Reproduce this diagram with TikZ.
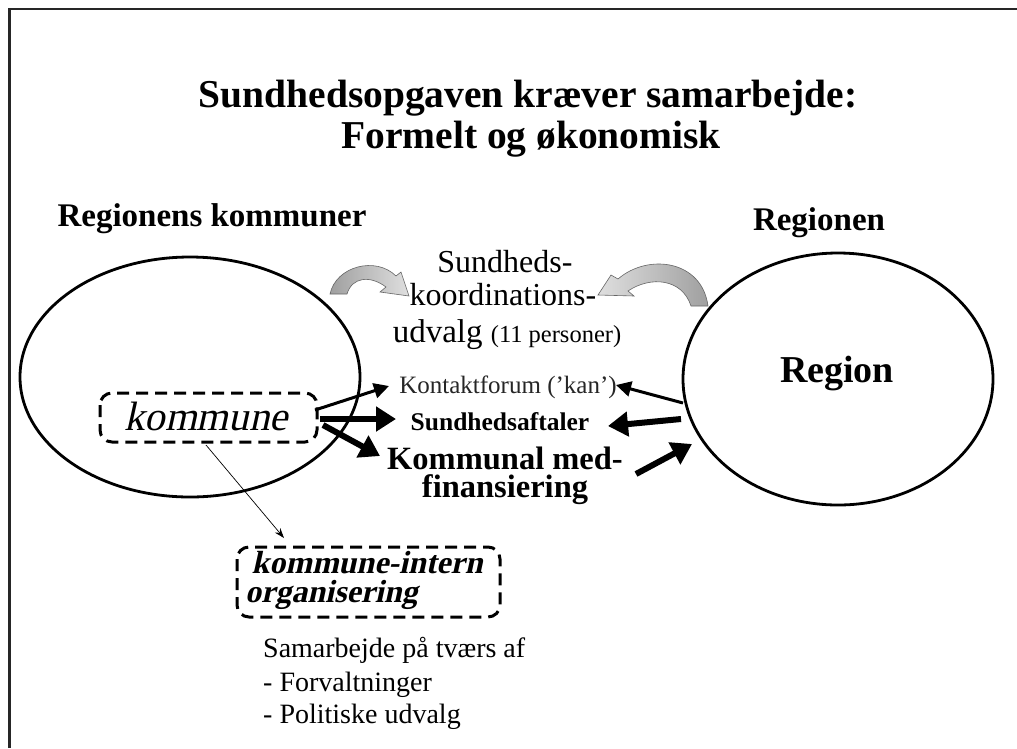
\documentclass[tikz,border=0pt]{standalone}
\usepackage{fontspec}
\setmainfont{Liberation Serif}
\usetikzlibrary{arrows.meta,shapes.geometric}
\tikzset{
  txt/.style={anchor=base, inner sep=0pt, text=black},
  oval/.style={ellipse, draw=black, line width=2.8pt, inner sep=0pt},
  dbox/.style={draw=black, line width=3pt, dash pattern=on 12pt off 7pt, rounded corners=12pt},
  medarrow/.style={draw=black, line width=3pt, -{Triangle[length=15pt,width=15pt]}},
  thickarrow/.style={draw=black, line width=6pt, -{Triangle[length=20pt,width=24pt]}},
  thinarrow/.style={draw=black, line width=0.7pt, -{Stealth[length=10pt,width=7pt]}},
  curvy/.style={draw=gray!80!black, line width=0.6pt}
}
\begin{document}
\begin{tikzpicture}[x=1pt,y=-1pt]
\useasboundingbox (0,0) rectangle (1017,748);
\fill[white] (0,0) rectangle (1017,748);
% frame
\draw[line width=2.2pt, color=black!85] (9.5,748) -- (9.5,9) -- (1017,9);

% title
\node[txt, font=\fontsize{39.5}{44}\selectfont\bfseries] (title1) at (528,107) {Sundhedsopgaven kræver samarbejde:};
\node[txt, font=\fontsize{39.5}{44}\selectfont\bfseries] (title2) at (531,148) {Formelt og økonomisk};

% headings
\node[txt, font=\fontsize{33}{38}\selectfont\bfseries] (lhead) at (212,226) {Regionens kommuner};
\node[txt, font=\fontsize{33}{38}\selectfont\bfseries] (rhead) at (819,230) {Regionen};

% ovals
\node[oval, minimum width=340pt, minimum height=240pt] (L) at (190,377) {};
\node[oval, minimum width=310pt, minimum height=252pt] (R) at (838,379) {};
\node[txt, font=\fontsize{38}{44}\selectfont\bfseries] (region) at (837,382) {Region};

% center texts
\node[txt, font=\fontsize{32}{36}\selectfont] (s1) at (505,272) {Sundheds-};
\node[txt, font=\fontsize{32}{36}\selectfont] (s2) at (503,305) {koordinations-};
\node[txt, font=\fontsize{33}{36}\selectfont] (s3) at (507,342) {udvalg {\fontsize{24.5}{28}\selectfont (11 personer)}};

\node[txt, font=\fontsize{25}{28}\selectfont, text=black!85] (kf) at (508,393) {Kontaktforum (’kan’)};
\node[txt, font=\fontsize{25.5}{28}\selectfont\bfseries] (sa) at (500,430) {Sundhedsaftaler};
\node[txt, align=center, font=\fontsize{32.5}{28}\selectfont\bfseries] (km) at (505,497) {Kommunal med-\\finansiering};

% kommune box
\draw[dbox] (100,393) rectangle (317,442);
\begin{scope}[shift={(206,430)}, xslant=0.22]
  \node[txt, transform shape, font=\fontsize{41}{46}\selectfont] (kom) at (0,0) {kommune};
\end{scope}
\coordinate (komB) at (206,445);

% intern box
\draw[dbox] (237,547) rectangle (500,617);
\begin{scope}[shift={(245,602)}, xslant=0.22]
  \node[txt, transform shape, anchor=base west, align=left, font=\fontsize{32}{29}\selectfont\bfseries] (ki) at (0,0) {kommune-intern\\organisering};
\end{scope}
\coordinate (kiT) at (284,538);

% bottom text
\node[txt, anchor=base west, font=\fontsize{28}{33}\selectfont] (b1) at (263,657) {Samarbejde på tværs af};
\node[txt, anchor=base west, font=\fontsize{28}{33}\selectfont] (b2) at (263,691) {- Forvaltninger};
\node[txt, anchor=base west, font=\fontsize{28}{33}\selectfont] (b3) at (263,723) {- Politiske udvalg};

% arrow end points
\coordinate (a1s) at (315,410); \coordinate (a1e) at (389,386);
\coordinate (a2s) at (320,419); \coordinate (a2e) at (396,419);
\coordinate (a3s) at (323,425); \coordinate (a3e) at (380,456);
\coordinate (b1s) at (683,403); \coordinate (b1e) at (616,385);
\coordinate (b2s) at (681,419); \coordinate (b2e) at (608,426);
\coordinate (b3s) at (636,474); \coordinate (b3e) at (692,444);

\draw[medarrow] (a1s) -- (a1e);
\draw[thickarrow] (a2s) -- (a2e);
\draw[thickarrow] (a3s) -- (a3e);
\draw[medarrow] (b1s) -- (b1e);
\draw[thickarrow] (b2s) -- (b2e);
\draw[thickarrow] (b3s) -- (b3e);
\draw[thinarrow] (komB) -- (kiT);

% curved block arrows
\path[curvy, left color=gray!75, right color=gray!25]
  (330,294) .. controls (336,266) and (376,256) .. (396,276)
  -- (401,272) -- (409,296) -- (380,292) -- (386,287)
  .. controls (370,275) and (352,277) .. (347,294) -- cycle;
\path[curvy, left color=gray!25, right color=gray!75]
  (708,306) .. controls (702,260) and (648,253) .. (618,279)
  -- (611,275) -- (598,295) -- (634,296) -- (628,291)
  .. controls (650,276) and (682,278) .. (691,306) -- cycle;
\end{tikzpicture}
\end{document}
